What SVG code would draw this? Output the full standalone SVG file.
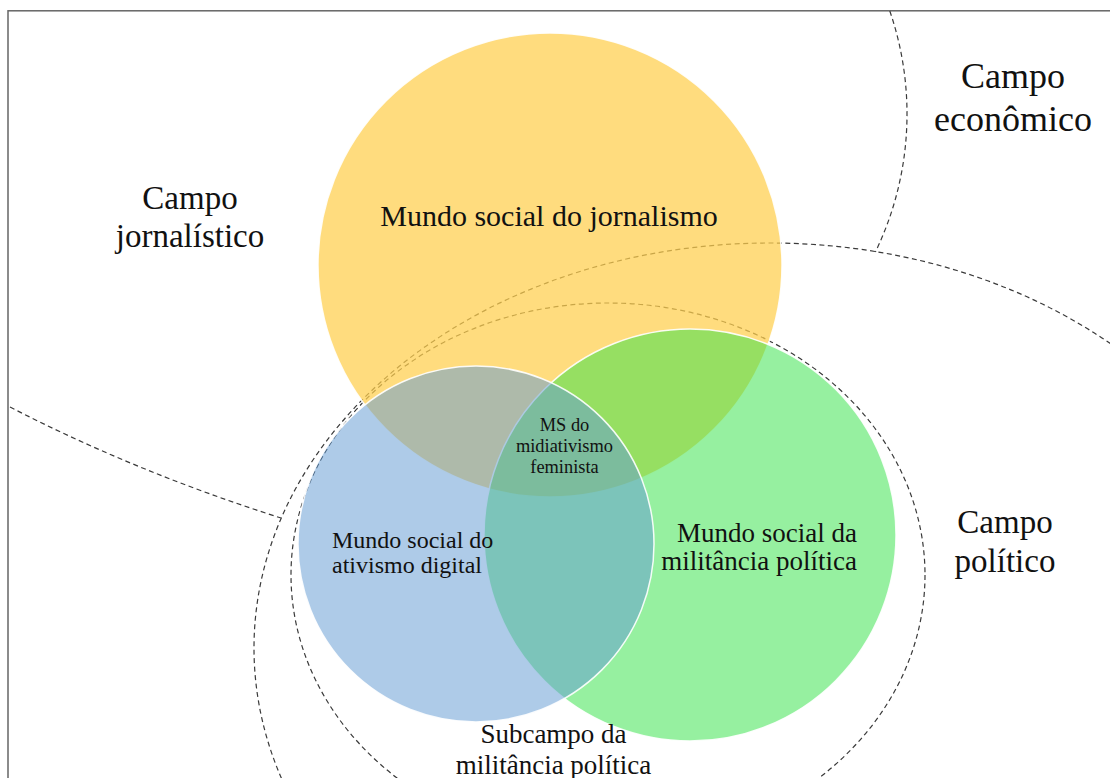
<svg xmlns="http://www.w3.org/2000/svg" width="1110" height="778" viewBox="0 0 1110 778">
<style>
  .dash { fill: none; stroke: #3a3a3a; stroke-width: 1.2; stroke-dasharray: 5 3.5; }
  .lbl { font-family: "Liberation Serif", "Times New Roman", serif; fill: #111; }
  .c { stroke: #ffffff; stroke-width: 1.5; stroke-opacity: 0.9; }
</style>
<rect x="0" y="0" width="1110" height="778" fill="#ffffff"/>
<rect x="8" y="10.8" width="1130" height="790" fill="none" stroke="#666666" stroke-width="1.5"/>

<g id="connectors">
  <path id="campo-jornalistico-arc" class="dash" d="M10,407 Q136,472 281,518"/>
  <path id="campo-economico-arc" class="dash" d="M889.8,11 A317,317 0 0 1 875.4,252"/>
  <ellipse id="campo-politico-arc" class="dash" cx="770" cy="648" rx="516" ry="405"/>
  <ellipse id="subcampo-arc" class="dash" cx="608" cy="575" rx="317" ry="272"/>
</g>

<g id="mundo-jornalismo">
  <circle class="c" cx="550" cy="265" r="232" fill="#FFCF4E" fill-opacity="0.73"/>
</g>
<g id="mundo-militancia">
  <circle class="c" cx="690" cy="535" r="206" fill="#35E248" fill-opacity="0.52"/>
</g>
<g id="mundo-ativismo">
  <circle class="c" cx="476" cy="544" r="178" fill="#639BD3" fill-opacity="0.52"/>
</g>

<g id="label-campo-jornalistico" class="lbl" font-size="33" text-anchor="middle">
  <text x="190" y="209">Campo</text>
  <text x="190" y="247">jornalístico</text>
</g>
<g id="label-campo-economico" class="lbl" font-size="36" text-anchor="middle">
  <text x="1013" y="88">Campo</text>
  <text x="1013" y="131">econômico</text>
</g>
<g id="label-campo-politico" class="lbl" font-size="33" text-anchor="middle">
  <text x="1005" y="533">Campo</text>
  <text x="1005" y="572">político</text>
</g>
<g id="label-mundo-jornalismo" class="lbl" font-size="30" text-anchor="middle">
  <text x="549" y="226">Mundo social do jornalismo</text>
</g>
<g id="label-mundo-ativismo" class="lbl" font-size="24" text-anchor="start">
  <text x="332" y="548">Mundo social do</text>
  <text x="332" y="573">ativismo digital</text>
</g>
<g id="label-mundo-militancia" class="lbl" font-size="27" text-anchor="end">
  <text x="857" y="542">Mundo social da</text>
  <text x="857" y="570">militância política</text>
</g>
<g id="label-ms-midiativismo" class="lbl" font-size="18.4" text-anchor="middle">
  <text x="564.5" y="431">MS do</text>
  <text x="564.5" y="452">midiativismo</text>
  <text x="564.5" y="473">feminista</text>
</g>
<g id="label-subcampo" class="lbl" font-size="27" text-anchor="middle">
  <text x="553.5" y="743">Subcampo da</text>
  <text x="553.5" y="774">militância política</text>
</g>
</svg>
